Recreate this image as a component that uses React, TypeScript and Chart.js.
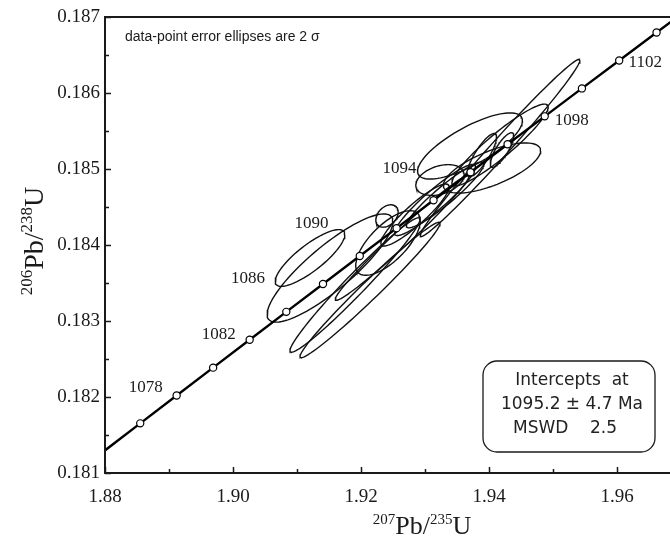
import { useEffect, useRef } from "react";
import { Chart, registerables } from "chart.js";
Chart.register(...registerables);

// Concordia curve (ages in Ma and ratios)
const concordiaAges = [1074, 1076, 1078, 1080, 1082, 1084, 1086, 1088, 1090, 1092, 1094, 1096, 1098, 1100, 1102, 1104, 1106];
const concordiaX = [1.879825, 1.885503, 1.891192, 1.896893, 1.902604, 1.908327, 1.914061, 1.919807, 1.925563, 1.931332, 1.937111, 1.942902, 1.948704, 1.954518, 1.960343, 1.96618, 1.972028];
const concordiaY = [0.1812865, 0.181653, 0.1820197, 0.1823864, 0.1827533, 0.1831203, 0.1834874, 0.1838547, 0.184222, 0.1845894, 0.184957, 0.1853247, 0.1856925, 0.1860604, 0.1864284, 0.1867966, 0.1871648];
const markedAges = [1076, 1078, 1080, 1082, 1084, 1086, 1088, 1090, 1092, 1094, 1096, 1098, 1100, 1102, 1104];
const labelledAges = [1078, 1082, 1086, 1090, 1094, 1098, 1102];

// Error ellipses (2 sigma): centres, half-extents, correlation
const ellX = [1.91203, 1.91516, 1.92422, 1.92406, 1.91906, 1.92141, 1.93703, 1.94047, 1.93234, 1.94172, 1.94172, 1.93891, 1.94203, 1.92844, 1.93313, 1.926406, 1.931563];
const ellY = [0.183829, 0.183697, 0.184026, 0.184382, 0.183474, 0.183408, 0.185303, 0.185013, 0.184855, 0.185276, 0.185316, 0.185184, 0.18525, 0.184395, 0.184658, 0.1840921, 0.1845921];
const ellSx = [0.005441, 0.009827, 0.005048, 0.001747, 0.010158, 0.010945, 0.008191, 0.007598, 0.003777, 0.012484, 0.007519, 0.002269, 0.001838, 0.00533, 0.006053, 0.010434, 0.006333];
const ellSy = [0.0003734, 0.0007121, 0.0004251, 0.0001471, 0.000885, 0.0008908, 0.0004353, 0.0003297, 0.0002025, 0.0011663, 0.0005382, 0.0002832, 0.0002271, 0.000408, 0.0004325, 0.0008203, 0.0004682];
const ellRho = [0.825, 0.856, 0.69, 0.352, 0.977, 0.983, 0.763, 0.688, 0.339, 0.989, 0.926, 0.829, 0.806, 0.905, 0.935, 0.9845, 0.93];

// Axes
const xMin = 1.88;
const xMax = 1.96828;
const yMin = 0.181;
const yMax = 0.187;
const xTickValues = [1.88, 1.89, 1.9, 1.91, 1.92, 1.93, 1.94, 1.95, 1.96];
const xTickLabels = ["1.88", "", "1.90", "", "1.92", "", "1.94", "", "1.96"];
const yTickValues = [0.181, 0.1815, 0.182, 0.1825, 0.183, 0.1835, 0.184, 0.1845, 0.185, 0.1855, 0.186, 0.1865, 0.187];
const yTickLabels = ["0.181", "", "0.182", "", "0.183", "", "0.184", "", "0.185", "", "0.186", "", "0.187"];

const noteText = "data-point error ellipses are 2 σ";
const resultLines = ["Intercepts  at", "1095.2 ± 4.7 Ma", "MSWD    2.5"];

// label placement (pixel offsets from the concordia point)
const LABEL_OFFSETS: [number, number][] = [[-31, -8], [-31, -5], [-75, -5], [-85, -5], [-71, -4], [27, 4], [26, 2]];

const INK = "#1a1a1a";
const SERIF = "'Liberation Serif', 'DejaVu Serif', serif";

function ellipsePoints(i: number) {
  const pts: { x: number; y: number }[] = [];
  const n = 90;
  const r = ellRho[i];
  const q = Math.sqrt(1 - r * r);
  for (let k = 0; k <= n; k++) {
    const t = (k / n) * Math.PI * 2;
    pts.push({
      x: ellX[i] + ellSx[i] * Math.cos(t),
      y: ellY[i] + ellSy[i] * (r * Math.cos(t) + q * Math.sin(t)),
    });
  }
  return pts;
}

const decorPlugin = {
  id: "decor",
  afterDraw(chart: any) {
    const ctx = chart.ctx as CanvasRenderingContext2D;
    const area = chart.chartArea;
    const xs = chart.scales.x;
    const ys = chart.scales.y;
    ctx.save();
    ctx.strokeStyle = INK;
    ctx.lineWidth = 2;
    ctx.lineCap = "butt";
    // frame: left, bottom, top
    ctx.beginPath();
    ctx.moveTo(area.right, area.top);
    ctx.lineTo(area.left, area.top);
    ctx.lineTo(area.left, area.bottom);
    ctx.lineTo(area.right, area.bottom);
    ctx.stroke();
    // ticks pointing inward
    ctx.lineWidth = 1.5;
    ctx.beginPath();
    xTickValues.forEach((v, i) => {
      const px = Math.round(xs.getPixelForValue(v)) + 0.5;
      const len = xTickLabels[i] ? 6 : 4;
      ctx.moveTo(px, area.bottom);
      ctx.lineTo(px, area.bottom - len);
    });
    yTickValues.forEach((v, i) => {
      const py = Math.round(ys.getPixelForValue(v)) + 0.5;
      const len = yTickLabels[i] ? 6 : 4;
      ctx.moveTo(area.left, py);
      ctx.lineTo(area.left + len, py);
    });
    ctx.stroke();

    // concordia age labels
    ctx.fillStyle = INK;
    ctx.font = `17px ${SERIF}`;
    ctx.textAlign = "center";
    ctx.textBaseline = "middle";
    labelledAges.forEach((age, i) => {
      const idx = concordiaAges.indexOf(age);
      const px = xs.getPixelForValue(concordiaX[idx]);
      const py = ys.getPixelForValue(concordiaY[idx]);
      ctx.fillText(String(age), px + LABEL_OFFSETS[i][0], py + LABEL_OFFSETS[i][1]);
    });

    // note text
    ctx.font = "14px 'Liberation Sans', Arial, sans-serif";
    ctx.textAlign = "left";
    ctx.fillText(noteText, area.left + 20, area.top + 20);

    // results box
    const bx = area.right - 187;
    const by = area.bottom - 112;
    const bw = 172;
    const bh = 91;
    ctx.lineWidth = 1.3;
    ctx.beginPath();
    (ctx as any).roundRect(bx, by, bw, bh, 14);
    ctx.stroke();
    ctx.font = "17px 'DejaVu Sans', sans-serif";
    ctx.fillStyle = "#222";
    ctx.textAlign = "center";
    ctx.fillText(resultLines[0], bx + 89, by + 20);
    ctx.fillText(resultLines[1], bx + 89, by + 44);
    ctx.fillText(resultLines[2], bx + 82, by + 68);

    // axis titles with superscripts
    const drawTitle = (sup1: string, main1: string, sup2: string, main2: string, mainSize: number, supSize: number) => {
      const mainFont = `${mainSize}px ${SERIF}`;
      const supFont = `${supSize}px ${SERIF}`;
      ctx.font = supFont;
      const w1 = ctx.measureText(sup1).width;
      const w3 = ctx.measureText(sup2).width;
      ctx.font = mainFont;
      const w2 = ctx.measureText(main1).width;
      const w4 = ctx.measureText(main2).width;
      const total = w1 + w2 + w3 + w4;
      let x = -total / 2;
      ctx.textAlign = "left";
      ctx.textBaseline = "alphabetic";
      ctx.font = supFont;
      ctx.fillText(sup1, x, -mainSize * 0.38);
      x += w1;
      ctx.font = mainFont;
      ctx.fillText(main1, x, 0);
      x += w2;
      ctx.font = supFont;
      ctx.fillText(sup2, x, -mainSize * 0.38);
      x += w3;
      ctx.font = mainFont;
      ctx.fillText(main2, x, 0);
    };
    ctx.fillStyle = INK;
    ctx.save();
    ctx.translate(422, chart.height - 4);
    drawTitle("207", "Pb/", "235", "U", 26, 15);
    ctx.restore();
    ctx.save();
    ctx.translate(43, (area.top + area.bottom) / 2 - 4);
    ctx.rotate(-Math.PI / 2);
    drawTitle("206", "Pb/", "238", "U", 28, 17);
    ctx.restore();

    ctx.restore();
  },
};

export default function App() {
  const ref = useRef<HTMLCanvasElement | null>(null);
  useEffect(() => {
    if (!ref.current) return;
    const concordiaData = concordiaAges.map((_, i) => ({ x: concordiaX[i], y: concordiaY[i] }));
    const radii = concordiaAges.map((a) => (markedAges.includes(a) ? 3.6 : 0));
    const datasets: any[] = [
      {
        label: "Concordia",
        data: concordiaData,
        showLine: true,
        borderColor: "#000",
        borderWidth: 2.4,
        pointRadius: radii,
        pointBackgroundColor: "#fff",
        pointBorderColor: "#000",
        pointBorderWidth: 1.2,
        tension: 0,
      },
      ...ellX.map((_, i) => ({
        label: `Ellipse ${i + 1}`,
        data: ellipsePoints(i),
        showLine: true,
        borderColor: "#111",
        borderWidth: 1.4,
        pointRadius: 0,
        fill: false,
        tension: 0,
      })),
    ];
    const chart = new Chart(ref.current, {
      type: "scatter",
      data: { datasets },
      options: {
        animation: false,
        responsive: false,
        events: [],
        layout: { padding: { left: 0, right: 0, top: 17, bottom: 0 } },
        plugins: { legend: { display: false }, tooltip: { enabled: false } },
        scales: {
          x: {
            type: "linear",
            min: xMin,
            max: xMax,
            grid: { display: false, drawTicks: false },
            border: { display: false },
            afterBuildTicks: (scale: any) => {
              scale.ticks = xTickValues.map((v) => ({ value: v }));
            },
            afterFit: (scale: any) => {
              scale.height = 65;
            },
            ticks: {
              autoSkip: false,
              maxRotation: 0,
              padding: 13,
              color: INK,
              font: { family: SERIF, size: 19 },
              callback: (_v: any, i: number) => xTickLabels[i],
            },
          },
          y: {
            type: "linear",
            min: yMin,
            max: yMax,
            grid: { display: false, drawTicks: false },
            border: { display: false },
            afterBuildTicks: (scale: any) => {
              scale.ticks = yTickValues.map((v) => ({ value: v }));
            },
            afterFit: (scale: any) => {
              scale.width = 105;
            },
            ticks: {
              autoSkip: false,
              padding: 5,
              color: INK,
              font: { family: SERIF, size: 19 },
              callback: (_v: any, i: number) => yTickLabels[i],
            },
          },
        },
      },
      plugins: [decorPlugin],
    });
    return () => chart.destroy();
  }, []);
  return (
    <canvas
      ref={ref}
      width={670}
      height={538}
      style={{ position: "absolute", left: 0, top: 0, display: "block" }}
    />
  );
}
